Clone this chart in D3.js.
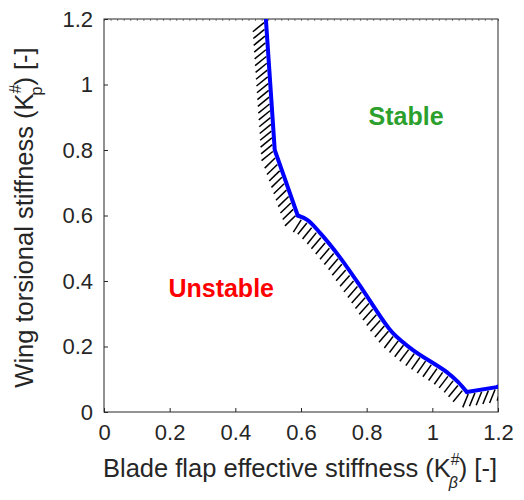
<!DOCTYPE html>
<html>
<head>
<meta charset="utf-8">
<script src="https://cdn.jsdelivr.net/npm/d3@7"></script>
<style>
  body { margin: 0; background: #fff; }
  svg text { font-family: "Liberation Sans", Arial, sans-serif; }
</style>
</head>
<body>
<div id="chart"></div>
<script>
// stability boundary
const boundaryX = [0.493, 0.52, 0.59, 0.62, 0.658, 0.718, 0.788, 0.849, 0.88, 0.94, 1.044, 1.078, 1.105, 1.196, 1.2];
const boundaryY = [1.2, 0.80, 0.60, 0.586, 0.547, 0.473, 0.373, 0.281, 0.241, 0.19, 0.122, 0.092, 0.061, 0.076, 0.078];
const xTicks = [0, 0.2, 0.4, 0.6, 0.8, 1, 1.2];
const yTicks = [0, 0.2, 0.4, 0.6, 0.8, 1, 1.2];
const regionLabels = ["Stable", "Unstable"];
const regionPos = [[0.92, 0.895], [0.357, 0.37]];

const W = 524, H = 500;
const margin = { top: 19, right: 26, bottom: 88, left: 104 };
const width = W - margin.left - margin.right;
const height = H - margin.top - margin.bottom;

const svg = d3.select("#chart").append("svg")
    .attr("width", W)
    .attr("height", H);

const g = svg.append("g")
    .attr("transform", `translate(${margin.left},${margin.top})`);

const x = d3.scaleLinear().domain([0, 1.2]).range([0, width]);
const y = d3.scaleLinear().domain([0, 1.2]).range([height, 0]);

const axisColor = "#262626";
const fmt = d => d3.format("~g")(d);

// bottom axis (ticks inside)
g.append("g")
    .attr("transform", `translate(0,${height})`)
    .call(d3.axisBottom(x).tickValues(xTicks).tickSize(-4).tickPadding(12).tickFormat(fmt))
    .call(a => a.selectAll("text").style("font-size", "22px").attr("fill", axisColor))
    .call(a => a.selectAll("line").attr("stroke", axisColor))
    .call(a => a.select(".domain").remove());

// left axis
g.append("g")
    .call(d3.axisLeft(y).tickValues(yTicks).tickSize(-4).tickPadding(11).tickFormat(fmt))
    .call(a => a.selectAll("text").style("font-size", "22px").attr("fill", axisColor))
    .call(a => a.selectAll("line").attr("stroke", axisColor))
    .call(a => a.select(".domain").remove());

// top minor ticks
g.append("g")
    .call(d3.axisTop(x).ticks(48).tickSize(-2).tickFormat(""))
    .call(a => a.selectAll("line").attr("stroke", "#888"))
    .call(a => a.select(".domain").remove());

// box
g.append("rect")
    .attr("width", width)
    .attr("height", height)
    .attr("fill", "none")
    .attr("stroke", axisColor)
    .attr("stroke-width", 1);

const pts = boundaryX.map((v, i) => [x(v), y(boundaryY[i])]);

// hatching on the unstable side
g.append("clipPath").attr("id", "clip")
    .append("rect").attr("width", width).attr("height", height);

const hatch = g.append("g").attr("clip-path", "url(#clip)");
let segs = [];
for (let i = 0; i < pts.length - 1; i++) {
    const [x0, y0] = pts[i], [x1, y1] = pts[i + 1];
    const len = Math.hypot(x1 - x0, y1 - y0);
    segs.push({ x0, y0, x1, y1, len });
}
const total = d3.sum(segs, s => s.len);
const step = 6.8;
for (let s = 2; s < total + 6; s += step) {
    let acc = 0, k = 0;
    while (k < segs.length - 1 && acc + segs[k].len < s) { acc += segs[k].len; k++; }
    const sg = segs[k];
    const t = (s - acc) / sg.len;
    const px = sg.x0 + (sg.x1 - sg.x0) * t;
    const py = sg.y0 + (sg.y1 - sg.y0) * t;
    const tang = Math.atan2(sg.y1 - sg.y0, sg.x1 - sg.x0) * 180 / Math.PI;
    const ang = (0.3 * tang + 115) * Math.PI / 180;
    const dx = Math.cos(ang), dy = Math.sin(ang);
    hatch.append("line")
        .attr("x1", px + dx * 2.5).attr("y1", py + dy * 2.5)
        .attr("x2", px + dx * 17).attr("y2", py + dy * 17)
        .attr("stroke", "#000")
        .attr("stroke-width", 1.5);
}

// boundary line: sharp corners at the top, smooth in the middle
const data = boundaryX.map((v, i) => [v, boundaryY[i]]);
const parts = [
    [data.slice(0, 3), d3.curveLinear],
    [data.slice(2, 13), d3.curveCatmullRom.alpha(0.5)],
    [data.slice(12), d3.curveLinear]
];
parts.forEach(([p, c]) => {
    g.append("path")
        .datum(p)
        .attr("clip-path", "url(#clip)")
        .attr("fill", "none")
        .attr("stroke", "#0000ff")
        .attr("stroke-width", 4)
        .attr("stroke-linejoin", "round")
        .attr("stroke-linecap", "round")
        .attr("d", d3.line().curve(c).x(d => x(d[0])).y(d => y(d[1])));
});

// region labels
g.selectAll(".region")
    .data(regionLabels)
    .enter()
    .append("text")
    .attr("class", "region")
    .attr("x", (d, i) => x(regionPos[i][0]))
    .attr("y", (d, i) => y(regionPos[i][1]))
    .attr("text-anchor", "middle")
    .attr("dominant-baseline", "middle")
    .style("font-size", "25px")
    .style("font-weight", "bold")
    .attr("fill", (d, i) => i === 0 ? "#2ca02c" : "#ff0000")
    .text(d => d);

// x axis label
const xl = svg.append("text")
    .attr("x", margin.left + width / 2 - 1)
    .attr("y", 477)
    .attr("text-anchor", "middle")
    .style("font-size", "25.5px")
    .attr("fill", axisColor);
xl.append("tspan").text("Blade flap effective stiffness (K");
xl.append("tspan").attr("dy", -12).style("font-size", "16px").text("#");
xl.append("tspan").attr("dx", -11).attr("dy", 23).style("font-size", "16px").style("font-style", "italic").text("β");
xl.append("tspan").attr("dx", 1).attr("dy", -11).text(") [-]");

// y axis label
const yl = svg.append("text")
    .attr("transform", `translate(33,${margin.top + height / 2 + 2}) rotate(-90)`)
    .attr("text-anchor", "middle")
    .style("font-size", "25.5px")
    .attr("fill", axisColor);
yl.append("tspan").text("Wing torsional stiffness (K");
yl.append("tspan").attr("dy", -12).style("font-size", "16px").text("#");
yl.append("tspan").attr("dx", -11).attr("dy", 21).style("font-size", "16px").text("p");
yl.append("tspan").attr("dx", 1).attr("dy", -9).text(") [-]");
</script>
</body>
</html>
